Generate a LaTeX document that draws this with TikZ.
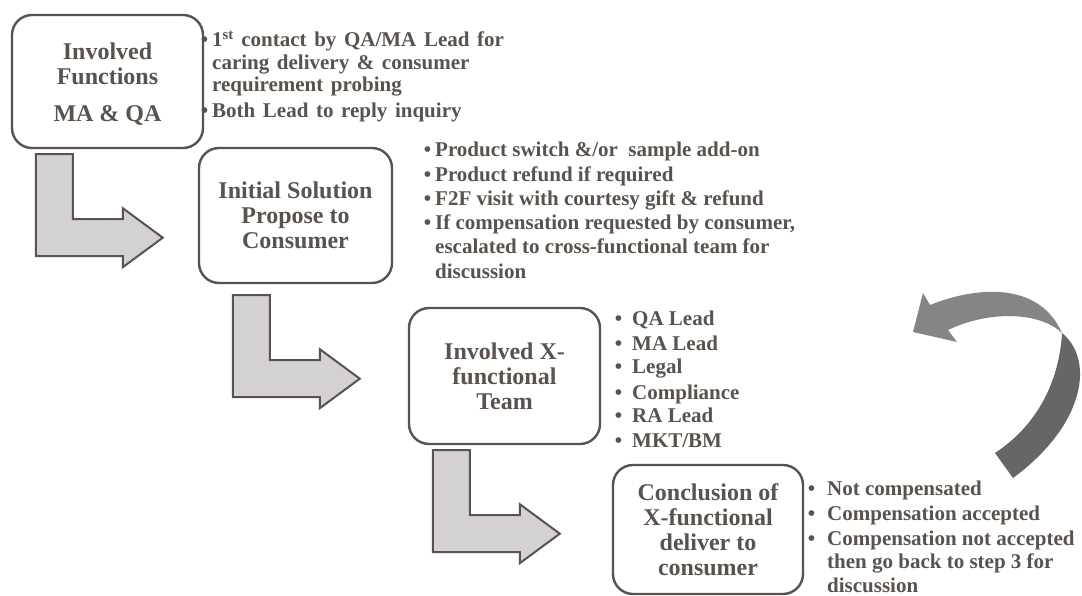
\documentclass[tikz,border=0pt]{standalone}
\usepackage{fontspec}
\setmainfont{Liberation Serif}

\definecolor{ink}{RGB}{90,82,77}
\definecolor{armfill}{RGB}{211,209,210}
\definecolor{loopdark}{RGB}{102,102,102}
\definecolor{looplight}{RGB}{133,133,133}

% bullet hung to the left of a line's start
\newcommand\dotmark[1]{\makebox[0pt][r]{\textbullet\hspace{#1}}}
% looser word spacing for the first note block
\newcommand\loosewords{\spaceskip 7.6pt\relax}

\tikzset{
  stage/.style={draw=ink, line width=2.4pt, rounded corners=20pt, fill=white,
    text=ink, font=\fontsize{24}{25}\selectfont\bfseries, align=center, inner sep=0pt},
  item/.style={anchor=base west, inner sep=0pt, text=ink,
    font=\fontsize{21}{22}\selectfont\bfseries},
  bendarrow/.pic={
    \draw[draw=ink, line width=2pt, fill=armfill, line join=miter]
      (0,0) -- (37,0) -- (37,65) -- (87,65) -- (87,54) -- (127,83.5)
      -- (87,113) -- (87,102) -- (0,102) -- cycle;
  }
}

\begin{document}
\begin{tikzpicture}[x=1pt, y=-1pt]
  \useasboundingbox (0,0) rectangle (1082,596);
  \fill[white] (0,0) rectangle (1082,596);

  % process stages
  \node[stage, minimum width=191pt, minimum height=133pt] (s1) at (107.5,81.5)
    {\rule{0pt}{22pt}Involved\\Functions\\[12pt]MA \& QA};
  \node[stage, minimum width=193pt, minimum height=135pt] (s2) at (295.5,215.5)
    {Initial Solution\\Propose to\\Consumer};
  \node[stage, minimum width=191pt, minimum height=136pt] (s3) at (504.5,376)
    {Involved X-\\functional\\Team};
  \node[stage, minimum width=190pt, minimum height=129pt] (s4) at (708,529.5)
    {Conclusion of\\X-functional\\deliver to\\consumer};

  % bent block arrows between the stages
  \coordinate (a1) at ([shift={(25,5)}]s1.south west);
  \coordinate (a2) at ([shift={(35,11)}]s2.south west);
  \coordinate (a3) at ([shift={(25,5)}]s3.south west);
  \pic at (a1) {bendarrow};
  \pic at (a2) {bendarrow};
  \pic at (a3) {bendarrow};

  % stage 1 notes
  \node[item] (n1a) at (212,47)  {\loosewords\dotmark{4pt}1\textsuperscript{st} contact by QA/MA Lead for};
  \node[item] (n1b) at (212,70)  {\loosewords caring delivery \& consumer};
  \node[item] (n1c) at (212,92)  {\loosewords requirement probing};
  \node[item] (n1d) at (212,118) {\loosewords\dotmark{4pt}Both Lead to reply inquiry};

  % stage 2 notes
  \node[item] (n2a) at (435,157) {\dotmark{4pt}Product switch \&/or\ \ sample add-on};
  \node[item] (n2b) at (435,182) {\dotmark{4pt}Product refund if required};
  \node[item] (n2c) at (435,206) {\dotmark{4pt}F2F visit with courtesy gift \& refund};
  \node[item] (n2d) at (435,230) {\dotmark{4pt}If compensation requested by consumer,};
  \node[item] (n2e) at (435,254) {escalated to cross-functional team for};
  \node[item] (n2f) at (435,278) {discussion};

  % stage 3 members
  \node[item] (n3a) at (632,325) {\dotmark{10pt}QA Lead};
  \node[item] (n3b) at (632,350) {\dotmark{10pt}MA Lead};
  \node[item] (n3c) at (632,373) {\dotmark{10pt}Legal};
  \node[item] (n3d) at (632,399) {\dotmark{10pt}Compliance};
  \node[item] (n3e) at (632,422) {\dotmark{10pt}RA Lead};
  \node[item] (n3f) at (632,447) {\dotmark{10pt}MKT/BM};

  % stage 4 outcomes
  \node[item] (n4a) at (827,495) {\dotmark{12pt}Not compensated};
  \node[item] (n4b) at (827,520) {\dotmark{12pt}Compensation accepted};
  \node[item] (n4c) at (827,545) {\dotmark{12pt}Compensation not accepted};
  \node[item] (n4d) at (827,568) {then go back to step 3 for};
  \node[item] (n4e) at (827,592) {discussion};

  % loop-back arrow: lower band, then the folded upper band with its head
  \fill[loopdark] (1062,333) .. controls (1095,360) and (1085,425) .. (1013,478)
    -- (995,453) .. controls (1045,420) and (1060,370) .. (1062,333) -- cycle;
  \fill[looplight] (913,332) -- (923,293) -- (930,305)
    .. controls (980,285) and (1040,283) .. (1062,333)
    .. controls (1040,312) and (990,310) .. (948,330) -- (957,342) -- cycle;
\end{tikzpicture}
\end{document}
